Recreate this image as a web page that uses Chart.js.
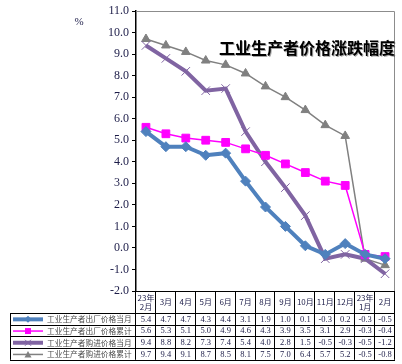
<!DOCTYPE html>
<html>
<head>
<meta charset="utf-8">
<script src="https://cdn.jsdelivr.net/npm/chart.js@4/dist/chart.umd.min.js"></script>
<style>
    body { margin: 0; background: #fff; }
    canvas { display: block; }
</style>
</head>
<body>
<canvas id="ppiChart" width="402" height="364"></canvas>
<script>
// categories (table header, two lines where needed)
const months = [['23年', '2月'], ['3月'], ['4月'], ['5月'], ['6月'], ['7月'], ['8月'], ['9月'], ['10月'], ['11月'], ['12月'], ['23年', '1月'], ['2月']];

const seriesNames = ['工业生产者出厂价格当月', '工业生产者出厂价格累计', '工业生产者购进价格当月', '工业生产者购进价格累计'];

const outMonthly = [5.4, 4.7, 4.7, 4.3, 4.4, 3.1, 1.9, 1.0, 0.1, -0.3, 0.2, -0.3, -0.5];
const outCumulative = [5.6, 5.3, 5.1, 5.0, 4.9, 4.6, 4.3, 3.9, 3.5, 3.1, 2.9, -0.3, -0.4];
const inMonthly = [9.4, 8.8, 8.2, 7.3, 7.4, 5.4, 4.0, 2.8, 1.5, -0.5, -0.3, -0.5, -1.2];
const inCumulative = [9.7, 9.4, 9.1, 8.7, 8.5, 8.1, 7.5, 7.0, 6.4, 5.7, 5.2, -0.5, -0.8];

const yMin = -2;
const yMax = 11;

const serif = '"Liberation Serif", "Times New Roman", serif';
const cjk = '"Noto Sans CJK SC", sans-serif';

function marker(ctx, style, x, y, color) {
    ctx.save();
    ctx.fillStyle = color;
    ctx.strokeStyle = color;
    ctx.lineWidth = 1;
    ctx.beginPath();
    if (style === 'rectRot') {
        ctx.moveTo(x, y - 3.5); ctx.lineTo(x + 3.5, y); ctx.lineTo(x, y + 3.5); ctx.lineTo(x - 3.5, y);
        ctx.closePath(); ctx.fill();
    } else if (style === 'rect') {
        ctx.rect(x - 3, y - 3, 6, 6); ctx.fill();
    } else if (style === 'triangle') {
        ctx.moveTo(x, y - 3.5); ctx.lineTo(x + 3.5, y + 3); ctx.lineTo(x - 3.5, y + 3);
        ctx.closePath(); ctx.fill();
    } else {
        ctx.moveTo(x - 3, y - 3); ctx.lineTo(x + 3, y + 3);
        ctx.moveTo(x + 3, y - 3); ctx.lineTo(x - 3, y + 3);
        ctx.stroke();
    }
    ctx.restore();
}

const tablePlugin = {
    id: 'dataTable',
    afterDraw(chart) {
        const ctx = chart.ctx;
        const area = chart.chartArea;
        const xs = chart.scales.x;
        const n = months.length;
        const colW = (area.right - area.left) / n;
        const top = area.bottom;
        const headBottom = top + 22;
        const rowH = 11.7;
        const tableLeft = 10;
        const bottom = headBottom + rowH * 4;

        ctx.save();
        // frame of plot area (top and right)
        ctx.strokeStyle = '#8c8c8c';
        ctx.lineWidth = 1;
        ctx.beginPath();
        ctx.moveTo(area.left, area.top + 0.5);
        ctx.lineTo(area.right - 0.5, area.top + 0.5);
        ctx.lineTo(area.right - 0.5, top);
        ctx.stroke();

        // table grid
        ctx.strokeStyle = '#000';
        ctx.beginPath();
        ctx.moveTo(area.left, top + 0.5);
        ctx.lineTo(area.right, top + 0.5);
        for (let r = 0; r <= 4; r++) {
            const y = Math.round(headBottom + r * rowH) + 0.5;
            ctx.moveTo(tableLeft, y);
            ctx.lineTo(area.right, y);
        }
        for (let c = 1; c <= n; c++) {
            const x = Math.round(area.left + c * colW) - 0.5;
            ctx.moveTo(x, top);
            ctx.lineTo(x, bottom);
        }
        ctx.moveTo(tableLeft + 0.5, headBottom);
        ctx.lineTo(tableLeft + 0.5, bottom);
        ctx.moveTo(area.left - 0.5, top);
        ctx.lineTo(area.left - 0.5, bottom);
        ctx.stroke();

        // header labels
        ctx.fillStyle = '#1c1c48';
        ctx.textAlign = 'center';
        ctx.textBaseline = 'middle';
        ctx.font = '8px ' + cjk;
        months.forEach((m, i) => {
            const x = xs.getPixelForValue(i);
            if (m.length === 2) {
                ctx.fillText(m[0], x, top + 6.5);
                ctx.fillText(m[1], x, top + 16);
            } else {
                ctx.fillText(m[0], x, top + 11);
            }
        });

        // rows: legend key + values
        chart.data.datasets.forEach((ds, r) => {
            const yc = headBottom + r * rowH + rowH / 2 + 0.5;
            ctx.save();
            ctx.strokeStyle = ds.borderColor;
            ctx.lineWidth = ds.borderWidth;
            ctx.beginPath();
            ctx.moveTo(13, yc);
            ctx.lineTo(43, yc);
            ctx.stroke();
            ctx.restore();
            marker(ctx, ds.pointStyle, 28, yc, ds.borderColor);

            ctx.fillStyle = '#4a4a4a';
            ctx.font = '7.7px ' + cjk;
            ctx.textAlign = 'left';
            ctx.fillText(seriesNames[r], 47, yc);

            ctx.fillStyle = '#1c1c48';
            ctx.font = '8.5px ' + serif;
            ctx.textAlign = 'center';
            ds.data.forEach((v, i) => {
                ctx.fillText(v.toFixed(1), xs.getPixelForValue(i), yc);
            });
        });

        // unit and title
        ctx.fillStyle = '#1c1c48';
        ctx.font = '11px ' + serif;
        ctx.textAlign = 'center';
        ctx.fillText('%', 79, 22);

        ctx.shadowColor = 'rgba(0,0,0,0.35)';
        ctx.shadowOffsetX = 1;
        ctx.shadowOffsetY = 1;
        ctx.fillStyle = '#000';
        ctx.font = 'bold 16px ' + cjk;
        ctx.fillText('工业生产者价格涨跌幅度', 307, 48);
        ctx.restore();
    }
};

new Chart(document.getElementById('ppiChart').getContext('2d'), {
    type: 'line',
    data: {
        labels: months.map(m => m.join('')),
        datasets: [
            {
                label: seriesNames[0],
                data: outMonthly,
                borderColor: '#4f81bd',
                backgroundColor: '#4f81bd',
                borderWidth: 4,
                pointStyle: 'rectRot',
                pointRadius: 5,
                pointBorderWidth: 1
            },
            {
                label: seriesNames[1],
                data: outCumulative,
                borderColor: '#ff00ff',
                backgroundColor: '#ff00ff',
                borderWidth: 1.5,
                pointStyle: 'rect',
                pointRadius: 5.5,
                pointBorderWidth: 1
            },
            {
                label: seriesNames[2],
                data: inMonthly,
                borderColor: '#8064a2',
                backgroundColor: '#8064a2',
                borderWidth: 4,
                pointStyle: 'crossRot',
                pointRadius: 6,
                pointBorderWidth: 1
            },
            {
                label: seriesNames[3],
                data: inCumulative,
                borderColor: '#808080',
                backgroundColor: '#808080',
                borderWidth: 1.5,
                pointStyle: 'triangle',
                pointRadius: 5,
                pointBorderWidth: 1
            }
        ]
    },
    options: {
        responsive: false,
        animation: false,
        devicePixelRatio: 1,
        layout: {
            padding: { top: 11, right: 2, bottom: 73, left: 0 }
        },
        plugins: {
            legend: { display: false },
            tooltip: { enabled: false }
        },
        scales: {
            x: {
                display: false,
                offset: true
            },
            y: {
                min: yMin,
                max: yMax,
                afterFit(scale) { scale.width = 136; },
                border: { color: '#000', width: 1.5 },
                grid: {
                    drawOnChartArea: false,
                    drawTicks: true,
                    tickLength: 4,
                    color: '#000'
                },
                ticks: {
                    stepSize: 1,
                    padding: 3,
                    color: '#1c1c48',
                    font: { family: serif, size: 12 },
                    callback: v => v.toFixed(1)
                }
            }
        }
    },
    plugins: [tablePlugin]
});
</script>
</body>
</html>
